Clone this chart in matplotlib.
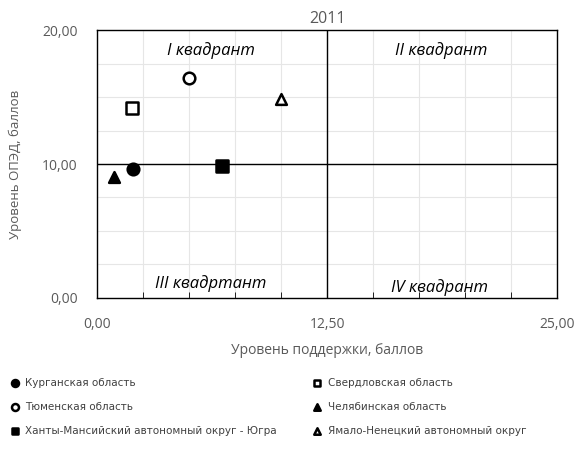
import matplotlib.pyplot as plt
from matplotlib.ticker import MultipleLocator, FuncFormatter

# -------------------------
# Data
# -------------------------
regions = [
    "Курганская область",
    "Свердловская область",
    "Тюменская область",
    "Челябинская область",
    "Ханты-Мансийский автономный округ - Югра",
    "Ямало-Ненецкий автономный округ",
]
support = [1.96, 1.90, 5.02, 0.90, 6.78, 9.98]
oped = [9.66, 14.17, 16.39, 9.02, 9.88, 14.88]
markers = ["o", "s", "o", "^", "s", "^"]
filled = [True, False, False, True, True, False]

quadrants = ["I квадрант", "II квадрант", "III квадртант", "IV квадрант"]
quad_x = [6.2, 18.7, 6.2, 18.6]
quad_y = [18.5, 18.5, 1.1, 0.8]

x_ticks = [0, 12.5, 25]
y_ticks = [0, 10, 20]

gray = "#595959"
plt.rcParams["font.family"] = ["Open Sans", "DejaVu Sans"]

fig = plt.figure(figsize=(5.84, 4.5), dpi=100)
ax = fig.add_axes([0.166, 0.338, 0.788, 0.595])

for name, x, y, m, f in zip(regions, support, oped, markers, filled):
    ax.scatter(x, y, marker=m, s=70 if m != "^" else 60,
               facecolor="black" if f else "white", edgecolor="black",
               linewidth=1.8, zorder=5, label=name)

ax.set_xlim(0, 25)
ax.set_ylim(0, 20)
ax.set_xticks(x_ticks)
ax.set_yticks(y_ticks)
ax.xaxis.set_minor_locator(MultipleLocator(2.5))
ax.yaxis.set_minor_locator(MultipleLocator(2.5))
ax.grid(which="both", color="#e6e6e6", linewidth=0.8, zorder=0)
ax.set_axisbelow(True)
fmt = FuncFormatter(lambda v, p: f"{v:.2f}".replace(".", ","))
ax.xaxis.set_major_formatter(fmt)
ax.yaxis.set_major_formatter(fmt)
ax.tick_params(axis="both", which="both", colors=gray, labelsize=10)
ax.tick_params(axis="x", which="major", length=0, pad=14)
ax.tick_params(axis="x", which="minor", direction="in", length=4, color="black")
ax.tick_params(axis="y", which="both", length=0, pad=14)

for side in ["top", "right", "left", "bottom"]:
    ax.spines[side].set_color("black")
    ax.spines[side].set_linewidth(1.0)

# quadrant dividers
ax.axvline(12.5, color="black", linewidth=1.0, zorder=2)
ax.axhline(10, color="black", linewidth=1.0, zorder=2)

for t, x, y in zip(quadrants, quad_x, quad_y):
    ax.text(x, y, t, ha="center", va="center", style="italic", fontsize=12,
            color="black", zorder=6)

ax.set_title("2011", color=gray, fontsize=11.5, pad=5)
ax.set_xlabel("Уровень поддержки, баллов", color=gray, fontsize=10, labelpad=8)
ax.set_ylabel("Уровень ОПЭД, баллов", color=gray, fontsize=9.5, labelpad=14)

# legend: reorder so two columns fill row-wise like the original
handles, labels = ax.get_legend_handles_labels()
order = [0, 2, 4, 1, 3, 5]
leg = fig.legend([handles[i] for i in order], [labels[i] for i in order],
                 loc="upper left", bbox_to_anchor=(0.0, 0.17), ncol=2,
                 frameon=False, handletextpad=0.0,
                 columnspacing=2.9, labelspacing=1.35, markerscale=0.6,
                 borderaxespad=0,
                 prop={"family": ["Liberation Sans Narrow", "DejaVu Sans"], "size": 7.5})
for txt in leg.get_texts():
    txt.set_color("#404040")

fig.savefig("out.png", dpi=100)
